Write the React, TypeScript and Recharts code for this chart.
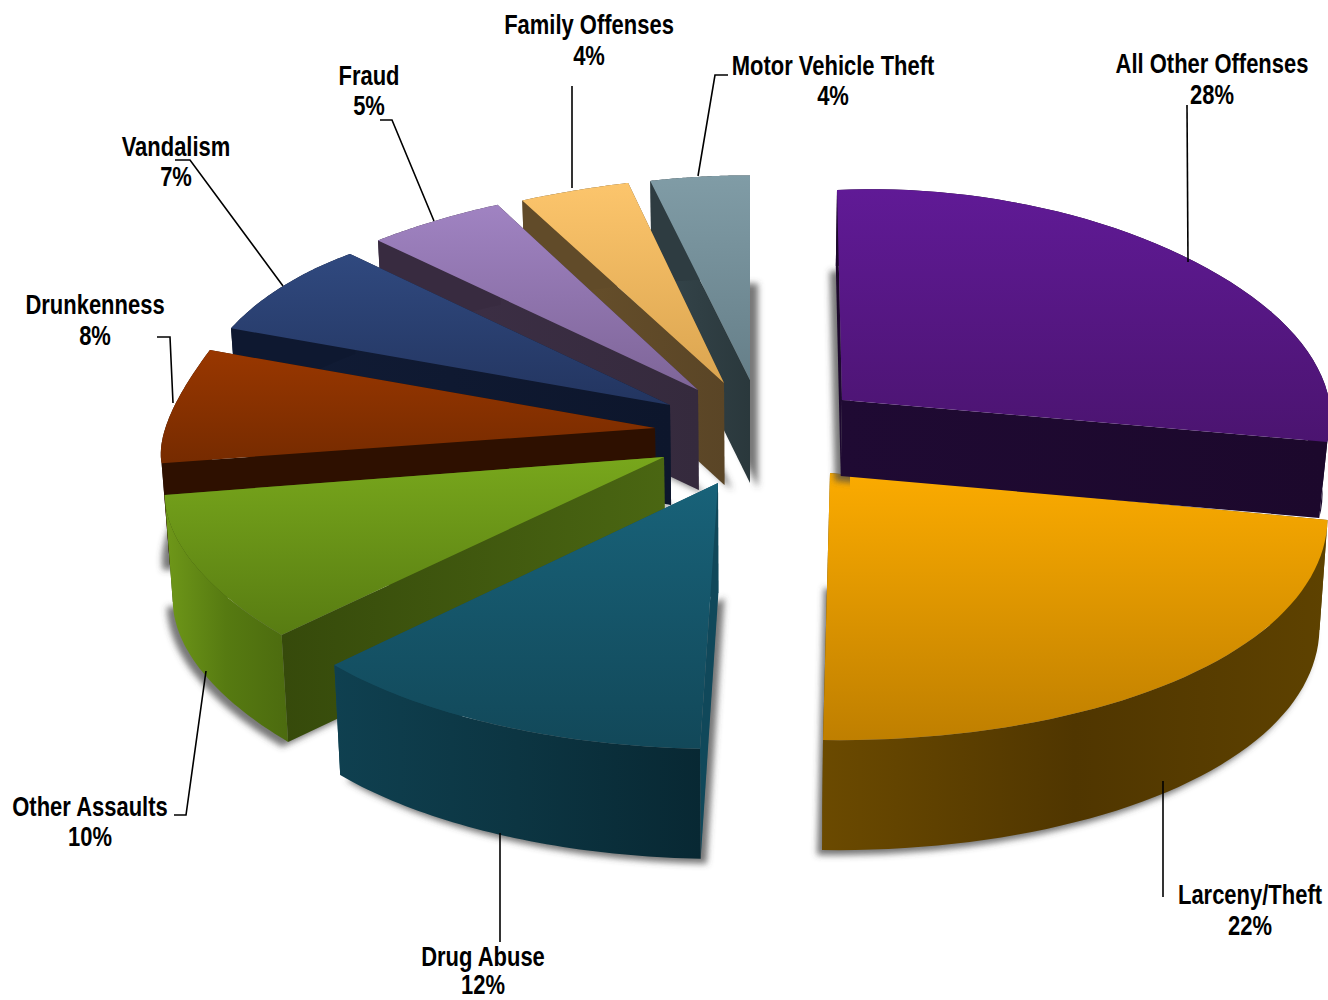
import React from 'react';
import { PieChart, Pie } from 'recharts';

const categories = ['Motor Vehicle Theft', 'Family Offenses', 'Fraud', 'Vandalism', 'Drunkenness', 'Other Assaults', 'Drug Abuse', 'Larceny/Theft', 'All Other Offenses'];
const shares = [4, 4, 5, 7, 8, 10, 12, 22, 28];

const data = categories.map((name, i) => ({ name, value: shares[i] }));

type Look = {
  ax: number; ay: number; depth: number; skew: number; bow?: number;
  rxK: [number, number]; ryK: [number, number]; shadow: number; shadowMaxX?: number;
  top: [string, string]; side: [string, string]; arc: [string, string, string];
};
const looks: Record<string, Look> = {
  'Motor Vehicle Theft': { ax: 750, ay: 380, depth: 103, skew: 0, rxK: [1.015, 1.015], ryK: [1, 1], shadow: 8, top: ['#809ca6', '#667f89'], side: ['#36464c', '#2a383c'], arc: ['#2e3c41', '#2e3c41', '#2e3c41'] },
  'Family Offenses': { ax: 724, ay: 383, depth: 102, skew: 0, rxK: [0.975, 1.036], ryK: [1.005, 1], shadow: 8, top: ['#fcc56c', '#dba550'], side: ['#6a522c', '#5a4526'], arc: ['#614b29', '#614b29', '#614b29'] },
  'Fraud': { ax: 698, ay: 390, depth: 100, skew: 0, rxK: [1.03, 1.038], ryK: [1.014, 1.02], shadow: 8, top: ['#a083c2', '#7e6598'], side: ['#3e3047', '#352a3d'], arc: ['#382b40', '#382b40', '#382b40'] },
  'Vandalism': { ax: 670, ay: 405, depth: 100, skew: 0, rxK: [1.038, 1.004], ryK: [1.03, 1.1], shadow: 8, top: ['#30497f', '#233560'], side: ['#111c36', '#0d162c'], arc: ['#0e1830', '#0e1830', '#0e1830'] },
  'Drunkenness': { ax: 655, ay: 428, depth: 102, skew: 0, rxK: [1.018, 0.988], ryK: [1.117, 0.78], shadow: -7, top: ['#993700', '#762b00'], side: ['#2e1000', '#2e1000'], arc: ['#2e1000', '#2e1000', '#2e1000'] },
  'Other Assaults': { ax: 664, ay: 457, depth: 107, skew: 0, rxK: [1, 0.995], ryK: [0.84, 0.948], shadow: -6, top: ['#78a71c', '#587c12'], side: ['#364a0b', '#4a6612'], arc: ['#6f9819', '#567a11', '#4c6b0f'] },
  'Drug Abuse': { ax: 718, ay: 483, depth: 110, skew: 18, rxK: [0.964, 0.964], ryK: [0.97, 1], shadow: 6, top: ['#186279', '#124859'], side: ['#10485a', '#10485a'], arc: ['#0f4050', '#0c3542', '#082833'] },
  'Larceny/Theft': { ax: 830, ay: 473, depth: 110, skew: 7, rxK: [0.999, 0.999], ryK: [1.005, 1.04], shadow: -5, top: ['#fbab00', '#bf7f00'], side: ['#5f4300', '#5f4300'], arc: ['#6b4a00', '#503600', '#5e4200'] },
  'All Other Offenses': { ax: 842, ay: 400, depth: 76, skew: -5, bow: 0.075, rxK: [0.97, 0.97], ryK: [0.93, 1.026], shadow: -6, shadowMaxX: 850, top: ['#601a96', '#4b1470'], side: ['#1c082c', '#1f0a33'], arc: ['#1c082c', '#1c082c', '#1c082c'] },
};

type Leader = { x: number; y1: number; y2: number; line: [number, number][] };
const leaders: Record<string, Leader> = {
  'Motor Vehicle Theft': { x: 833, y1: 75, y2: 105, line: [[728, 75], [715, 75], [698, 176]] },
  'Family Offenses': { x: 589, y1: 34, y2: 65, line: [[572, 86], [572, 188]] },
  'Fraud': { x: 369, y1: 85, y2: 115, line: [[380, 120], [392, 120], [434, 221]] },
  'Vandalism': { x: 176, y1: 156, y2: 186, line: [[175, 160], [190, 160], [283, 286]] },
  'Drunkenness': { x: 95, y1: 314, y2: 345, line: [[157, 337], [170, 337], [173, 403]] },
  'Other Assaults': { x: 90, y1: 816, y2: 846, line: [[174, 815], [186, 815], [206, 671]] },
  'Drug Abuse': { x: 483, y1: 966, y2: 994, line: [[500, 833], [500, 942]] },
  'Larceny/Theft': { x: 1250, y1: 904, y2: 935, line: [[1163, 781], [1163, 897]] },
  'All Other Offenses': { x: 1212, y1: 73, y2: 104, line: [[1187, 105], [1188, 262]] },
};

const RAD = Math.PI / 180;
const TILT = 0.48;
const FONT = "'Liberation Sans', Arial, sans-serif";
const toPath = (pts: number[][], close = true) =>
  pts.map((p, i) => `${i ? 'L' : 'M'}${p[0].toFixed(1)} ${p[1].toFixed(1)}`).join(' ') + (close ? ' Z' : '');

function Slab(props: any) {
  const { cx, outerRadius, startAngle, endAngle } = props;
  const name: string = props.name ?? props.payload?.name;
  const k = looks[name];
  const R = outerRadius;
  const project = (a: number) => {
    const t = (a - startAngle) / (endAngle - startAngle);
    const s = Math.cos(a * RAD);
    const c = Math.sin(a * RAD);
    const grow = 1 + (k.bow ?? 0) * Math.sin(Math.PI * t);
    const rx = grow * R * (k.rxK[0] + (k.rxK[1] - k.rxK[0]) * t) * (1 - 0.2 * c);
    const ry = grow * R * TILT * (k.ryK[0] + (k.ryK[1] - k.ryK[0]) * t) * (1 - 0.13 * c);
    return [k.ax + rx * s + k.skew * c, k.ay - ry * c];
  };
  const drop = (p: number[]) => [p[0] + (cx - p[0]) * 0.014, p[1] + k.depth];
  const steps = 48;
  const arc: number[][] = [];
  for (let i = 0; i <= steps; i++) arc.push(project(startAngle + ((endAngle - startAngle) * i) / steps));
  const low = arc.map(drop);
  const apex = [k.ax, k.ay];
  const apexLow = drop(apex);
  const ys = arc.map((p) => p[1]).concat(apex[1]);
  const id = name.replace(/[^a-z]/gi, '');
  const bottomFace = toPath([apexLow, ...low]);
  const sideGrad = (p: number[], suffix: string) => (
    <linearGradient id={`side${suffix}${id}`} gradientUnits="userSpaceOnUse" x1={p[0]} x2={apex[0]} y1="0" y2="0">
      <stop offset="0" stopColor={k.side[0]} />
      <stop offset="1" stopColor={k.side[1]} />
    </linearGradient>
  );
  return (
    <g>
      <defs>
        <linearGradient id={`top${id}`} gradientUnits="userSpaceOnUse" x1="0" x2="0" y1={Math.min(...ys)} y2={Math.max(...ys)}>
          <stop offset="0" stopColor={k.top[0]} />
          <stop offset="1" stopColor={k.top[1]} />
        </linearGradient>
        <linearGradient id={`arc${id}`} x1="0" x2="1" y1="0" y2="0">
          <stop offset="0" stopColor={k.arc[0]} />
          <stop offset="0.5" stopColor={k.arc[1]} />
          <stop offset="1" stopColor={k.arc[2]} />
        </linearGradient>
        {sideGrad(arc[0], 'a')}
        {sideGrad(arc[steps], 'b')}
        <filter id={`soft${id}`} x="-20%" y="-20%" width="140%" height="140%">
          <feGaussianBlur stdDeviation="3" />
        </filter>
        {k.shadowMaxX ? (
          <clipPath id={`clip${id}`}>
            <rect x="0" y="0" width={k.shadowMaxX} height="1000" />
          </clipPath>
        ) : null}
      </defs>
      <g clipPath={k.shadowMaxX ? `url(#clip${id})` : undefined}>
        <path d={bottomFace} fill="#4a4a4a" fillOpacity={0.75} transform={`translate(${k.shadow} 5)`} filter={`url(#soft${id})`} />
      </g>
      <path d={toPath([apex, arc[0], low[0], apexLow])} fill={`url(#sidea${id})`} />
      <path d={toPath([apex, arc[steps], low[steps], apexLow])} fill={`url(#sideb${id})`} />
      <path d={toPath([...arc, ...low.slice().reverse()])} fill={`url(#arc${id})`} />
      <path d={toPath([apex, ...arc])} fill={`url(#top${id})`} />
    </g>
  );
}

function Callout(props: any) {
  const name: string = props.name ?? props.payload?.name;
  const l = leaders[name];
  const common = { textAnchor: 'middle' as const, fontFamily: FONT, fontWeight: 700, fontSize: 27, fill: '#000' };
  return (
    <g>
      <polyline points={l.line.map((p) => p.join(',')).join(' ')} fill="none" stroke="#000" strokeWidth={1.6} />
      <text x={0} y={0} transform={`translate(${l.x} ${l.y1}) scale(0.814 1)`} {...common}>{name}</text>
      <text x={0} y={0} transform={`translate(${l.x} ${l.y2}) scale(0.814 1)`} {...common}>{`${props.value}%`}</text>
    </g>
  );
}

const slab = (p: any) => <Slab {...p} />;
const extra: any = { shape: slab, inactiveShape: slab, activeShape: slab };

export default function App() {
  return (
    <div style={{ position: 'absolute', left: 0, top: 0, width: 1328, height: 1000, background: '#fff' }}>
      <PieChart width={1328} height={1000} margin={{ top: 0, right: 0, bottom: 0, left: 0 }}>
        <Pie
          data={data}
          dataKey="value"
          nameKey="name"
          cx={750}
          cy={430}
          innerRadius={0}
          outerRadius={490}
          startAngle={90}
          endAngle={450}
          stroke="none"
          isAnimationActive={false}
          labelLine={false}
          label={(p: any) => <Callout {...p} />}
          {...extra}
        />
      </PieChart>
    </div>
  );
}
